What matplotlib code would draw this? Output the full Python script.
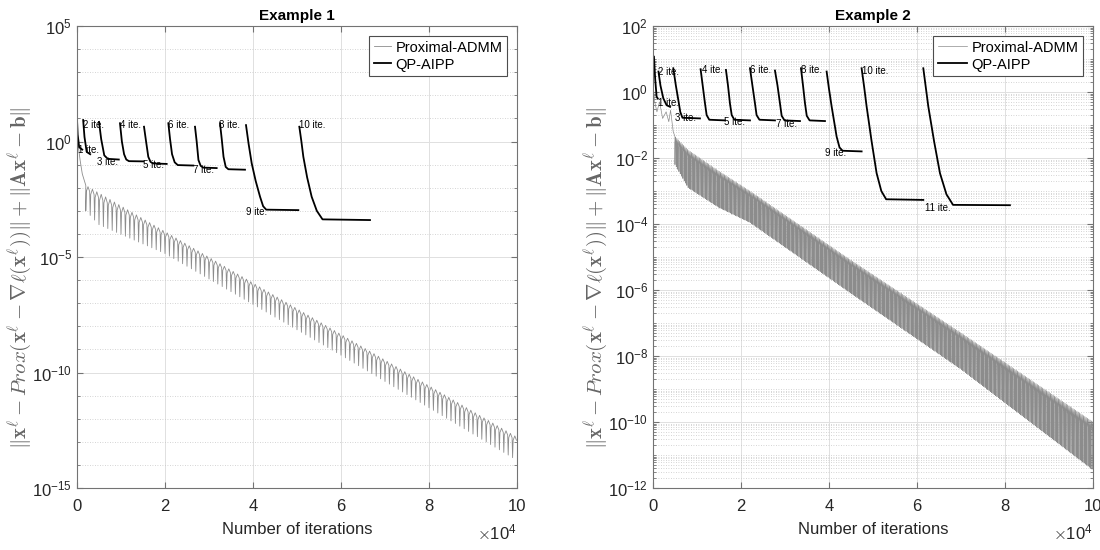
import matplotlib.pyplot as plt
import numpy as np
from matplotlib.ticker import FixedLocator, LogLocator, NullFormatter

plt.rcParams['font.family'] = ['Liberation Sans', 'DejaVu Sans']
plt.rcParams['mathtext.fontset'] = 'cm'
plt.rcParams['axes.unicode_minus'] = False

# ---------------- Example 1 ----------------
# Proximal-ADMM: start of curve, then oscillating band (log10 values)
ex1_head_it = [0, 300, 700, 1200, 2000]
ex1_head_log = [0.3, -0.2, -0.8, -1.4, -1.9]
ex1_band_it = [2000, 5000, 20000, 60000, 100000]
ex1_band_hi = [-1.9, -2.23, -3.9, -8.35, -12.8]
ex1_band_lo = [-3.0, -3.6, -4.85, -9.25, -13.8]
ex1_period = 1000

# QP-AIPP: one piece per outer iteration
ex1_seg_it = [
    [0, 150, 500, 1200],
    [1400, 1700, 2200, 3000],
    [5000, 5500, 6200, 7000, 9500],
    [9770, 10200, 10700, 11200, 11800, 15080],
    [15230, 15700, 16200, 16700, 17300, 20380],
    [20760, 21150, 21600, 22200, 22900, 26440],
    [26820, 27200, 27600, 28100, 28700, 31740],
    [32500, 32900, 33300, 33800, 34400, 38180],
    [38410, 39000, 39700, 40600, 41600, 42300, 43000, 50300],
    [50530, 51000, 51440, 52300, 53330, 54500, 55800, 66590],
]
ex1_seg_log = [
    [0.95, 0.3, -0.25, -0.35],
    [0.93, 0.2, -0.45, -0.55],
    [0.85, 0.1, -0.6, -0.75, -0.78],
    [0.79, 0.0, -0.55, -0.78, -0.85, -0.86],
    [0.64, 0.0, -0.66, -0.88, -0.95, -0.97],
    [0.79, 0.1, -0.55, -0.9, -1.02, -1.04],
    [0.64, 0.0, -0.8, -1.05, -1.13, -1.15],
    [0.79, 0.1, -0.66, -1.1, -1.2, -1.22],
    [0.71, -0.1, -0.94, -1.7, -2.39, -2.8, -2.95, -2.97],
    [0.64, 0.0, -0.66, -1.55, -2.39, -3.0, -3.37, -3.40],
]
ex1_lab_it = [300, 1290, 4470, 9770, 15080, 20760, 26440, 32350, 38410, 50530]
ex1_lab_log = [-0.37, 0.71, -0.87, 0.71, -1.02, 0.71, -1.23, 0.71, -3.04, 0.71]

# ---------------- Example 2 ----------------
ex2_head_it = [0, 400, 900, 1500, 2200, 3000, 3600, 4000, 4600, 5000]
ex2_head_log = [0.2, -0.3, -0.6, -0.3, -0.8, -0.6, -0.9, -0.55, -1.2, -1.35]
ex2_band_it = [5000, 8000, 15000, 22000, 45000, 70000, 100000]
ex2_band_hi = [-1.35, -1.76, -2.4, -3.0, -5.1, -7.3, -10.0]
ex2_band_lo = [-2.2, -2.9, -3.5, -3.95, -6.1, -8.4, -11.45]
ex2_period = 300

ex2_seg_it = [
    [230, 500, 830, 1100],
    [1250, 1700, 2350, 3100, 3900],
    [4620, 5200, 5760, 6200, 6700, 10680],
    [10830, 11300, 11820, 12200, 12800, 16360],
    [16590, 17050, 17500, 17900, 18500, 22050],
    [22050, 22600, 23180, 23550, 24200, 27730],
    [27730, 28300, 28860, 29250, 29900, 33410],
    [33640, 34100, 34550, 34950, 35600, 39090],
    [39470, 40000, 40610, 41740, 42400, 43100, 47420],
    [47420, 48000, 48560, 49700, 50830, 51900, 53000, 61440],
    [61440, 62000, 62580, 63900, 65230, 66700, 68200, 81130],
]
ex2_seg_log = [
    [1.07, 0.4, -0.14, -0.2],
    [0.62, 0.2, -0.19, -0.4, -0.45],
    [0.72, 0.2, -0.24, -0.6, -0.78, -0.80],
    [0.69, 0.2, -0.34, -0.7, -0.84, -0.86],
    [0.67, 0.2, -0.35, -0.7, -0.84, -0.86],
    [0.72, 0.2, -0.34, -0.7, -0.84, -0.86],
    [0.65, 0.2, -0.34, -0.72, -0.86, -0.88],
    [0.72, 0.2, -0.34, -0.72, -0.86, -0.88],
    [0.62, 0.1, -0.44, -1.35, -1.68, -1.78, -1.80],
    [0.72, 0.15, -0.44, -1.5, -2.46, -3.0, -3.25, -3.27],
    [0.72, 0.15, -0.44, -1.5, -2.46, -3.1, -3.42, -3.43],
]
ex2_lab_it = [1100, 1210, 5000, 11060, 16140, 22050, 27950, 33640, 39090, 47600, 61820]
ex2_lab_log = [-0.33, 0.62, -0.80, 0.67, -0.90, 0.67, -0.97, 0.67, -1.86, 0.65, -3.52]

x_ticks = [0, 20000, 40000, 60000, 80000, 100000]
x_tick_labels = ['0', '2', '4', '6', '8', '10']
ylabel = (r'$\Vert\mathbf{x}^\ell - Prox(\mathbf{x}^\ell - \nabla\ell(\mathbf{x}^\ell))\Vert'
          r' + \Vert\mathbf{A}\mathbf{x}^\ell - \mathbf{b}\Vert$')


def admm_curve(head_it, head_log, band_it, band_hi, band_lo, period):
    # oscillating band: one arch per restart between the two envelopes
    xs = list(head_it)
    ys = list(head_log)
    for s in np.arange(band_it[0], band_it[-1], period):
        hi = np.interp(s + period / 2, band_it, band_hi)
        lo = np.interp(s, band_it, band_lo)
        th = hi - lo
        xs += [s, s + 0.12 * period, s + 0.5 * period, s + 0.88 * period]
        ys += [lo, hi - 0.2 * th, hi, hi - 0.2 * th]
    return np.array(xs), 10.0 ** np.array(ys)


fig = plt.figure(figsize=(11, 5.5), dpi=100)
ax1 = fig.add_axes([0.07, 0.1127, 0.4, 0.84])
ax2 = fig.add_axes([0.5936, 0.1127, 0.4, 0.84])

setups = [
    (ax1, 'Example 1', (1e-15, 1e5), [1e-15, 1e-10, 1e-5, 1e0, 1e5],
     ex1_head_it, ex1_head_log, ex1_band_it, ex1_band_hi, ex1_band_lo, ex1_period,
     ex1_seg_it, ex1_seg_log, ex1_lab_it, ex1_lab_log, 1.2, 0.6),
    (ax2, 'Example 2', (1e-12, 1e2), [1e-12, 1e-10, 1e-8, 1e-6, 1e-4, 1e-2, 1e0, 1e2],
     ex2_head_it, ex2_head_log, ex2_band_it, ex2_band_hi, ex2_band_lo, ex2_period,
     ex2_seg_it, ex2_seg_log, ex2_lab_it, ex2_lab_log, 2.0, 0.5),
]

for (ax, title, ylim, yticks, h_it, h_log, b_it, b_hi, b_lo, period,
     seg_it, seg_log, lab_it, lab_log, hlen, glw) in setups:
    ax.set_yscale('log')

    gx, gy = admm_curve(h_it, h_log, b_it, b_hi, b_lo, period)
    ax.plot(gx, gy, color='0.55', lw=glw, label='Proximal-ADMM')

    for k in range(len(seg_it)):
        ax.plot(seg_it[k], 10.0 ** np.array(seg_log[k]), color='black', lw=1.3,
                label='QP-AIPP' if k == 0 else None)
        ax.text(lab_it[k], 10.0 ** lab_log[k], f'{k + 1} ite.', fontsize=7,
                ha='left', va='center')

    ax.set_xlim(0, 100000)
    ax.set_ylim(*ylim)
    ax.set_xticks(x_ticks)
    ax.set_xticklabels(x_tick_labels)
    ax.yaxis.set_major_locator(FixedLocator(yticks))
    if ax is ax1:
        ax.yaxis.set_minor_locator(FixedLocator([10.0 ** p for p in range(-15, 6)]))
    else:
        ax.yaxis.set_minor_locator(LogLocator(base=10, subs=np.arange(1, 10), numticks=100))
    ax.yaxis.set_minor_formatter(NullFormatter())

    ax.grid(True, which='major', color='0.88', lw=0.7, ls='-')
    ax.grid(True, which='minor', axis='y', color='0.78', lw=0.6, ls=(0, (1, 2)))
    ax.set_axisbelow(True)
    ax.tick_params(which='both', direction='in', top=True, right=True, colors='0.45',
                   labelcolor='#262626', labelsize=12)
    ax.tick_params(which='major', length=4)
    ax.tick_params(which='minor', length=2)
    ax.tick_params(axis='x', pad=8)
    for sp in ax.spines.values():
        sp.set_color('0.45')
        sp.set_linewidth(0.8)

    ax.set_title(title, fontsize=11, fontweight='bold', pad=4)
    ax.set_xlabel('Number of iterations', fontsize=12, color='#262626', labelpad=6)
    ax.set_ylabel(ylabel, fontsize=15, color='0.4')
    ax.yaxis.set_label_coords(-0.098, 0.455)
    ax.text(1.0, -0.097, r'$\times\mathdefault{10^{4}}$', transform=ax.transAxes,
            ha='right', va='center', fontsize=12, color='#262626')

    leg = ax.legend(loc='upper right', fontsize=10.5, handlelength=hlen,
                    handletextpad=0.3, borderaxespad=0.7, fancybox=False,
                    edgecolor='0.3', framealpha=1, borderpad=0.3, labelspacing=0.2)
    leg.get_frame().set_linewidth(0.8)

plt.savefig('out.png', dpi=100)
